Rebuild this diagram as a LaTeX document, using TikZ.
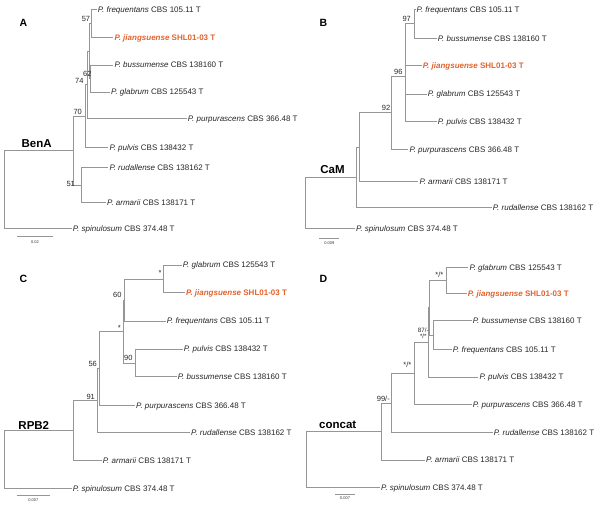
\documentclass[tikz,border=0pt]{standalone}
\usepackage{fontspec}
\setmainfont{Liberation Sans}
\usepackage{xcolor}
\usepackage{tikz}

\definecolor{treegray}{RGB}{150,150,150}
\definecolor{novel}{RGB}{226,98,45}
\newcommand{\taxon}[1]{\textit{P. #1}}

\begin{document}
\begin{tikzpicture}[x=1pt,y=-1pt,
        branch/.style={draw=treegray, line width=0.75pt},
        tip/.style={anchor=west, inner sep=1pt, text height=5.8pt, text depth=0pt,
            font=\fontsize{8}{9}\selectfont, text=black!85},
        newsp/.style={tip, text=novel, font=\fontsize{8}{9}\selectfont\bfseries},
        supp/.style={inner sep=0pt, text height=5.3pt, text depth=0pt,
            font=\fontsize{7.5}{8}\selectfont, text=black!85},
        suppsmall/.style={supp, text height=4.4pt, font=\fontsize{6.2}{7}\selectfont},
        gene/.style={inner sep=0pt, font=\fontsize{11.5}{13}\selectfont\bfseries},
        panel/.style={inner sep=0pt, font=\fontsize{10.5}{12}\selectfont\bfseries},
        scaletxt/.style={inner sep=0pt, font=\fontsize{4}{5}\selectfont, text=black!80}]
    \useasboundingbox (0,0) rectangle (600,504);

    % A: BenA
    \node[panel] (lab-a) at (23.3,22.7) {A};
    \node[gene] (gene-a) at (36.7,143.3) {BenA};
    \node[tip] (a-freq) at (96.7,9.3) {\taxon{frequentans} CBS 105.11 T};
    \node[newsp] (a-jiang) at (113.3,37.7) {\textit{P. jiangsuense} SHL01-03 T};
    \node[tip] (a-buss) at (113.3,65) {\taxon{bussumense} CBS 138160 T};
    \node[tip] (a-glab) at (110,92) {\taxon{glabrum} CBS 125543 T};
    \node[tip] (a-purp) at (186.7,118.3) {\taxon{purpurascens} CBS 366.48 T};
    \node[tip] (a-pulv) at (108.3,147.3) {\taxon{pulvis} CBS 138432 T};
    \node[tip] (a-rud) at (108.3,167.7) {\taxon{rudallense} CBS 138162 T};
    \node[tip] (a-arm) at (106,202.7) {\taxon{armarii} CBS 138171 T};
    \node[tip] (a-spin) at (71.7,228.3) {\taxon{spinulosum} CBS 374.48 T};

    \coordinate (a57) at (91.7,23.5);
    \coordinate (a62) at (90.7,78.5);
    \coordinate (ax) at (89.3,51);
    \coordinate (a74) at (87.3,84.7);
    \coordinate (a70) at (85,116);
    \coordinate (a51) at (81,185.2);
    \coordinate (ar) at (73.3,150.6);
    \coordinate (a0) at (4.7,189.5);

    \draw[branch] (a57) |- (a-freq.west);
    \draw[branch] (a57) |- (a-jiang.west);
    \draw[branch] (a62) |- (a-buss.west);
    \draw[branch] (a62) |- (a-glab.west);
    \draw[branch] (ax) |- (a57);
    \draw[branch] (ax) |- (a62);
    \draw[branch] (a74) |- (ax);
    \draw[branch] (a74) |- (a-purp.west);
    \draw[branch] (a70) |- (a74);
    \draw[branch] (a70) |- (a-pulv.west);
    \draw[branch] (a51) |- (a-rud.west);
    \draw[branch] (a51) |- (a-arm.west);
    \draw[branch] (ar) |- (a70);
    \draw[branch] (ar) |- (a51);
    \draw[branch] (a0) |- (ar);
    \draw[branch] (a0) |- (a-spin.west);

    \node[supp] (s-a57) at (86,19) {57};
    \node[supp] (s-a62) at (87.3,74) {62};
    \node[supp] (s-a74) at (79.3,81) {74};
    \node[supp] (s-a70) at (77.7,112.3) {70};
    \node[supp] (s-a51) at (70.7,184.3) {51};

    \coordinate (sb-a1) at (17.3,236.7);
    \coordinate (sb-a2) at (52.7,236.7);
    \draw[branch] (sb-a1) -- (sb-a2);
    \node[scaletxt] (sbt-a) at (35,241.7) {0.02};

    % B: CaM
    \node[panel] (lab-b) at (323.3,22.7) {B};
    \node[gene] (gene-b) at (332.5,170) {CaM};
    \node[tip] (b-freq) at (415.5,9.3) {\taxon{frequentans} CBS 105.11 T};
    \node[tip] (b-buss) at (436.7,38.3) {\taxon{bussumense} CBS 138160 T};
    \node[newsp] (b-jiang) at (421.7,65.7) {\textit{P. jiangsuense} SHL01-03 T};
    \node[tip] (b-glab) at (426.7,94) {\taxon{glabrum} CBS 125543 T};
    \node[tip] (b-pulv) at (436.7,121.7) {\taxon{pulvis} CBS 138432 T};
    \node[tip] (b-purp) at (408.3,149.3) {\taxon{purpurascens} CBS 366.48 T};
    \node[tip] (b-arm) at (418.3,181.3) {\taxon{armarii} CBS 138171 T};
    \node[tip] (b-rud) at (491.7,207.7) {\taxon{rudallense} CBS 138162 T};
    \node[tip] (b-spin) at (355,228.3) {\taxon{spinulosum} CBS 374.48 T};

    \coordinate (b97) at (414.3,23.8);
    \coordinate (b96) at (405,76.3);
    \coordinate (b92) at (391.7,112.8);
    \coordinate (bx) at (359.3,147);
    \coordinate (by) at (356.7,177.4);
    \coordinate (b0) at (305,202.9);

    \draw[branch] (b97) |- (b-freq.west);
    \draw[branch] (b97) |- (b-buss.west);
    \draw[branch] (b96) |- (b97);
    \draw[branch] (b96) |- (b-jiang.west);
    \draw[branch] (b96) |- (b-glab.west);
    \draw[branch] (b96) |- (b-pulv.west);
    \draw[branch] (b92) |- (b96);
    \draw[branch] (b92) |- (b-purp.west);
    \draw[branch] (bx) |- (b92);
    \draw[branch] (bx) |- (b-arm.west);
    \draw[branch] (by) |- (bx);
    \draw[branch] (by) |- (b-rud.west);
    \draw[branch] (b0) |- (by);
    \draw[branch] (b0) |- (b-spin.west);

    \node[supp] (s-b97) at (406.7,19) {97};
    \node[supp] (s-b96) at (398.3,71.7) {96};
    \node[supp] (s-b92) at (386,108.3) {92};

    \coordinate (sb-b1) at (319.3,238.3);
    \coordinate (sb-b2) at (339,238.3);
    \draw[branch] (sb-b1) -- (sb-b2);
    \node[scaletxt] (sbt-b) at (329.3,242.7) {0.009};

    % C: RPB2
    \node[panel] (lab-c) at (23.3,279.3) {C};
    \node[gene] (gene-c) at (33.8,425) {RPB2};
    \node[tip] (c-glab) at (181.7,265) {\taxon{glabrum} CBS 125543 T};
    \node[newsp] (c-jiang) at (185,292.7) {\textit{P. jiangsuense} SHL01-03 T};
    \node[tip] (c-freq) at (165.7,321) {\taxon{frequentans} CBS 105.11 T};
    \node[tip] (c-pulv) at (182.7,349) {\taxon{pulvis} CBS 138432 T};
    \node[tip] (c-buss) at (176.7,376.7) {\taxon{bussumense} CBS 138160 T};
    \node[tip] (c-purp) at (135,405.7) {\taxon{purpurascens} CBS 366.48 T};
    \node[tip] (c-rud) at (190,432.3) {\taxon{rudallense} CBS 138162 T};
    \node[tip] (c-arm) at (101.7,460.7) {\taxon{armarii} CBS 138171 T};
    \node[tip] (c-spin) at (71.7,488.3) {\taxon{spinulosum} CBS 374.48 T};

    \coordinate (cgj) at (163.3,278.9);
    \coordinate (c60) at (124,299.9);
    \coordinate (c90) at (135,362.9);
    \coordinate (cs) at (123,331.4);
    \coordinate (c56) at (99,368.6);
    \coordinate (c91) at (97.3,400.4);
    \coordinate (cr) at (73.3,430.6);
    \coordinate (c0) at (4.7,459.5);

    \draw[branch] (cgj) |- (c-glab.west);
    \draw[branch] (cgj) |- (c-jiang.west);
    \draw[branch] (c60) |- (cgj);
    \draw[branch] (c60) |- (c-freq.west);
    \draw[branch] (c90) |- (c-pulv.west);
    \draw[branch] (c90) |- (c-buss.west);
    \draw[branch] (cs) |- (c60);
    \draw[branch] (cs) |- (c90);
    \draw[branch] (c56) |- (cs);
    \draw[branch] (c56) |- (c-purp.west);
    \draw[branch] (c91) |- (c56);
    \draw[branch] (c91) |- (c-rud.west);
    \draw[branch] (cr) |- (c91);
    \draw[branch] (cr) |- (c-arm.west);
    \draw[branch] (c0) |- (cr);
    \draw[branch] (c0) |- (c-spin.west);

    \node[supp] (s-cgj) at (160,273.3) {*};
    \node[supp] (s-c60) at (117.3,295) {60};
    \node[supp] (s-cs) at (119.3,327.6) {*};
    \node[supp] (s-c90) at (128.3,358.3) {90};
    \node[supp] (s-c56) at (92.7,364) {56};
    \node[supp] (s-c91) at (90.7,396.7) {91};

    \coordinate (sb-c1) at (16.7,495);
    \coordinate (sb-c2) at (50,495);
    \draw[branch] (sb-c1) -- (sb-c2);
    \node[scaletxt] (sbt-c) at (33.3,500) {0.007};

    % D: concat
    \node[panel] (lab-d) at (323.3,279.3) {D};
    \node[gene] (gene-d) at (337.7,425) {concat};
    \node[tip] (d-glab) at (468.3,267.3) {\taxon{glabrum} CBS 125543 T};
    \node[newsp] (d-jiang) at (466.7,293.3) {\textit{P. jiangsuense} SHL01-03 T};
    \node[tip] (d-buss) at (471.7,320.7) {\taxon{bussumense} CBS 138160 T};
    \node[tip] (d-freq) at (451.7,349.3) {\taxon{frequentans} CBS 105.11 T};
    \node[tip] (d-pulv) at (478.3,377) {\taxon{pulvis} CBS 138432 T};
    \node[tip] (d-purp) at (471.7,404.3) {\taxon{purpurascens} CBS 366.48 T};
    \node[tip] (d-rud) at (492.7,432.7) {\taxon{rudallense} CBS 138162 T};
    \node[tip] (d-arm) at (425,460) {\taxon{armarii} CBS 138171 T};
    \node[tip] (d-spin) at (380,487.3) {\taxon{spinulosum} CBS 374.48 T};

    \coordinate (dgj) at (446,280.3);
    \coordinate (d87) at (433.3,335);
    \coordinate (dx) at (429.3,307.7);
    \coordinate (dm) at (428.3,342.3);
    \coordinate (dp) at (414.3,373.3);
    \coordinate (d99) at (391.7,403);
    \coordinate (dr) at (381.7,431.5);
    \coordinate (d0) at (306.7,459.4);

    \draw[branch] (dgj) |- (d-glab.west);
    \draw[branch] (dgj) |- (d-jiang.west);
    \draw[branch] (d87) |- (d-buss.west);
    \draw[branch] (d87) |- (d-freq.west);
    \draw[branch] (dx) |- (dgj);
    \draw[branch] (dx) |- (d87);
    \draw[branch] (dm) |- (dx);
    \draw[branch] (dm) |- (d-pulv.west);
    \draw[branch] (dp) |- (dm);
    \draw[branch] (dp) |- (d-purp.west);
    \draw[branch] (d99) |- (dp);
    \draw[branch] (d99) |- (d-rud.west);
    \draw[branch] (dr) |- (d99);
    \draw[branch] (dr) |- (d-arm.west);
    \draw[branch] (d0) |- (dr);
    \draw[branch] (d0) |- (d-spin.west);

    \node[supp] (s-dgj) at (439.3,275) {*/*};
    \node[suppsmall] (s-d87) at (423.3,330) {87/-};
    \node[suppsmall] (s-dm) at (423.3,336.3) {*/*};
    \node[supp] (s-dp) at (407.3,364.5) {*/*};
    \node[supp] (s-d99) at (383.3,399.3) {99/-};

    \coordinate (sb-d1) at (335,494);
    \coordinate (sb-d2) at (355,494);
    \draw[branch] (sb-d1) -- (sb-d2);
    \node[scaletxt] (sbt-d) at (345,497.7) {0.007};
\end{tikzpicture}
\end{document}
